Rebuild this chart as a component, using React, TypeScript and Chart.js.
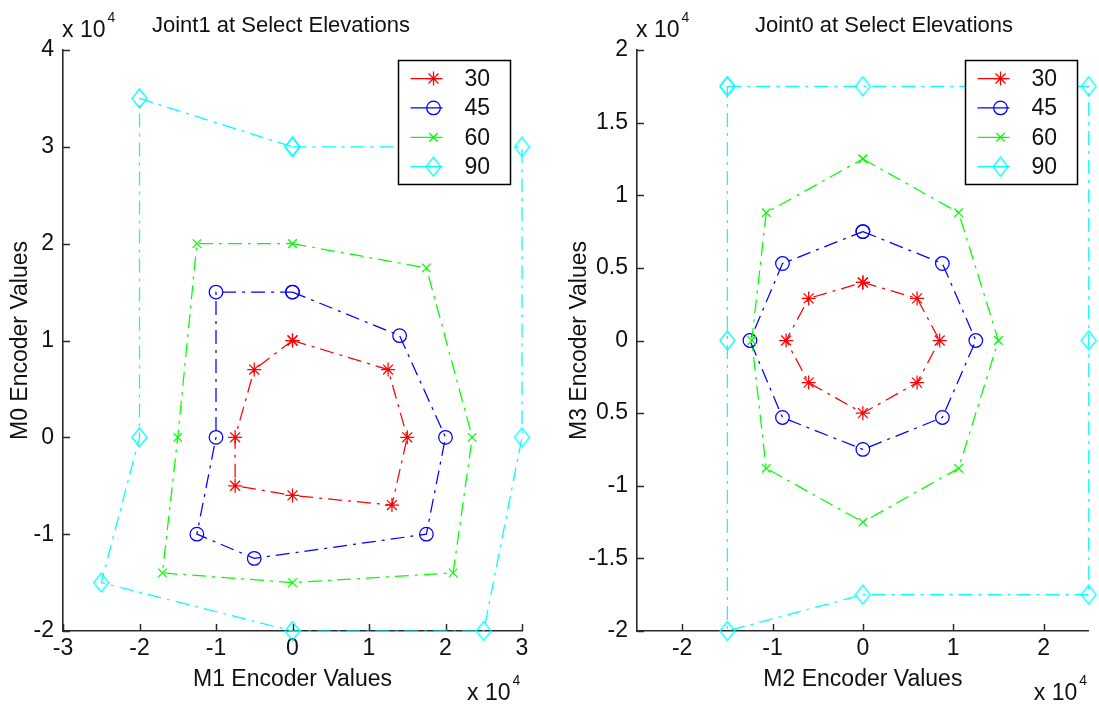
import React, { useEffect, useRef } from "react";
import { Chart, registerables } from "chart.js";

Chart.register(...registerables);

// ---------------- DATA ----------------
const seriesLabels = ["30", "45", "60", "90"];
const seriesColors = ["#ff0000", "#0000ff", "#00ff00", "#00ffff"];
const seriesMarkers = ["star", "circle", "crossRot", "diamond"];

// Joint1 (left panel): x = M1 encoder values, y = M0 encoder values
const joint1_30_x = [0, 12500, 15000, 13000, 0, -7500, -7500, -5000, 0];
const joint1_30_y = [10000, 7000, 0, -7000, -6000, -5000, 0, 7000, 10000];
const joint1_45_x = [0, 14000, 20000, 17500, -5000, -12500, -10000, -10000, 0];
const joint1_45_y = [15000, 10500, 0, -10000, -12500, -10000, 0, 15000, 15000];
const joint1_60_x = [0, 17500, 23500, 21000, 0, -17000, -15000, -12500, 0];
const joint1_60_y = [20000, 17500, 0, -14000, -15000, -14000, 0, 20000, 20000];
const joint1_90_x = [0, 30000, 30000, 25000, 0, -25000, -20000, -20000, 0];
const joint1_90_y = [30000, 30000, 0, -20000, -20000, -15000, 0, 35000, 30000];

// Joint0 (right panel): x = M2 encoder values, y = M3 encoder values
const joint0_30_x = [0, 6000, 8500, 6000, 0, -6000, -8500, -6000, 0];
const joint0_30_y = [4000, 2900, 0, -2900, -5000, -2900, 0, 2900, 4000];
const joint0_45_x = [0, 8800, 12500, 8800, 0, -8900, -12500, -8900, 0];
const joint0_45_y = [7500, 5300, 0, -5300, -7500, -5300, 0, 5300, 7500];
const joint0_60_x = [0, 10600, 15000, 10600, 0, -10700, -12300, -10700, 0];
const joint0_60_y = [12500, 8800, 0, -8800, -12500, -8800, 0, 8800, 12500];
const joint0_90_x = [-15000, 0, 25000, 25000, 25000, 0, -15000, -15000, -15000];
const joint0_90_y = [17500, 17500, 17500, 0, -17500, -17500, -20000, 0, 17500];

// Ticks
const joint1XTicks = [-30000, -20000, -10000, 0, 10000, 20000, 30000];
const joint1XTickLabels = ["-3", "-2", "-1", "0", "1", "2", "3"];
const joint1YTicks = [-20000, -10000, 0, 10000, 20000, 30000, 40000];
const joint1YTickLabels = ["-2", "-1", "0", "1", "2", "3", "4"];
const joint0XTicks = [-20000, -10000, 0, 10000, 20000];
const joint0XTickLabels = ["-2", "-1", "0", "1", "2"];
const joint0YTicks = [-20000, -15000, -10000, -5000, 0, 5000, 10000, 15000, 20000];
const joint0YTickLabels = ["-2", "-1.5", "-1", "0.5", "0", "0.5", "1", "1.5", "2"];

// ---------------- STYLE ----------------
const FONT_FAMILY = '"Liberation Sans", Arial, Helvetica, sans-serif';
const TEXT_COLOR = "#111111";
const AXIS_COLOR = "#2a2a2a";
const LABEL_SIZE = 23;
const TITLE_SIZE = 22;
const DASH = [14, 6, 3, 6];
const LINE_W = 1.25;

type Panel = {
  title: string;
  titleX: number;
  xTitle: string;
  yTitle: string;
  xMin: number;
  xMax: number;
  yMin: number;
  yMax: number;
  xTicks: number[];
  xTickLabels: string[];
  yTicks: number[];
  yTickLabels: string[];
  series: { x: number[]; y: number[] }[];
  yAxisWidth: number;
  padRight: number;
  yTitlePad: number;
};

const leftPanel: Panel = {
  title: "Joint1 at Select Elevations",
  titleX: 152,
  xTitle: "M1 Encoder Values",
  yTitle: "M0 Encoder Values",
  xMin: -30000,
  xMax: 30000,
  yMin: -20000,
  yMax: 40000,
  xTicks: joint1XTicks,
  xTickLabels: joint1XTickLabels,
  yTicks: joint1YTicks,
  yTickLabels: joint1YTickLabels,
  series: [
    { x: joint1_30_x, y: joint1_30_y },
    { x: joint1_45_x, y: joint1_45_y },
    { x: joint1_60_x, y: joint1_60_y },
    { x: joint1_90_x, y: joint1_90_y },
  ],
  yAxisWidth: 63,
  padRight: 27,
  yTitlePad: 7,
};

const rightPanel: Panel = {
  title: "Joint0 at Select Elevations",
  titleX: 755 - 549,
  xTitle: "M2 Encoder Values",
  yTitle: "M3 Encoder Values",
  xMin: -25000,
  xMax: 25000,
  yMin: -20000,
  yMax: 20000,
  xTicks: joint0XTicks,
  xTickLabels: joint0XTickLabels,
  yTicks: joint0YTicks,
  yTickLabels: joint0YTickLabels,
  series: [
    { x: joint0_30_x, y: joint0_30_y },
    { x: joint0_45_x, y: joint0_45_y },
    { x: joint0_60_x, y: joint0_60_y },
    { x: joint0_90_x, y: joint0_90_y },
  ],
  yAxisWidth: 88,
  padRight: 3,
  yTitlePad: 17,
};

function makeDiamond(color: string): HTMLCanvasElement {
  const c = document.createElement("canvas");
  c.width = 17;
  c.height = 21;
  const ctx = c.getContext("2d")!;
  ctx.strokeStyle = color;
  ctx.lineWidth = 1.25;
  ctx.beginPath();
  ctx.moveTo(8.5, 1);
  ctx.lineTo(16, 10.5);
  ctx.lineTo(8.5, 20);
  ctx.lineTo(1, 10.5);
  ctx.closePath();
  ctx.stroke();
  return c;
}

const markerRadius: Record<string, number> = {
  star: 7,
  circle: 6.8,
  crossRot: 6,
  diamond: 9,
};

function drawMarker(
  ctx: CanvasRenderingContext2D,
  style: string,
  x: number,
  y: number,
  color: string,
  diamond: HTMLCanvasElement
) {
  const r = markerRadius[style];
  ctx.save();
  ctx.setLineDash([]);
  ctx.strokeStyle = color;
  ctx.lineWidth = LINE_W;
  if (style === "diamond") {
    ctx.drawImage(diamond, x - diamond.width / 2, y - diamond.height / 2);
    ctx.restore();
    return;
  }
  ctx.beginPath();
  if (style === "circle") {
    ctx.arc(x, y, r, 0, Math.PI * 2);
  } else if (style === "star") {
    for (let k = 0; k < 4; k++) {
      const a = (k * Math.PI) / 4;
      ctx.moveTo(x - Math.cos(a) * r, y - Math.sin(a) * r);
      ctx.lineTo(x + Math.cos(a) * r, y + Math.sin(a) * r);
    }
  } else {
    const d = r * Math.SQRT1_2;
    ctx.moveTo(x - d, y - d);
    ctx.lineTo(x + d, y + d);
    ctx.moveTo(x + d, y - d);
    ctx.lineTo(x - d, y + d);
  }
  ctx.stroke();
  ctx.restore();
}

function buildConfig(p: Panel, diamond: HTMLCanvasElement): any {
  const font = { family: FONT_FAMILY, size: LABEL_SIZE };
  const datasets = p.series.map((s, i) => ({
    label: seriesLabels[i],
    data: s.x.map((x, k) => ({ x, y: s.y[k] })),
    showLine: true,
    borderColor: seriesColors[i],
    borderWidth: LINE_W,
    borderDash: DASH,
    borderCapStyle: "butt",
    tension: 0,
    pointStyle: seriesMarkers[i] === "diamond" ? diamond : seriesMarkers[i],
    pointRadius: markerRadius[seriesMarkers[i]],
    pointBorderColor: seriesColors[i],
    pointBackgroundColor: "rgba(0,0,0,0)",
    pointBorderWidth: LINE_W,
    clip: false,
    order: 3 - i,
  }));

  const decor = {
    id: "decor",
    beforeDatasetsDraw(chart: any) {
      const ctx = chart.ctx as CanvasRenderingContext2D;
      const area = chart.chartArea;
      const xs = chart.scales.x;
      const ys = chart.scales.y;
      ctx.save();
      ctx.strokeStyle = AXIS_COLOR;
      ctx.lineWidth = 1.5;
      ctx.beginPath();
      for (const t of xs.ticks) {
        const px = Math.round(xs.getPixelForValue(t.value)) + 0.5;
        ctx.moveTo(px, area.bottom);
        ctx.lineTo(px, area.bottom - 7);
      }
      for (const t of ys.ticks) {
        const py = Math.round(ys.getPixelForValue(t.value)) + 0.5;
        ctx.moveTo(area.left, py);
        ctx.lineTo(area.left + 7, py);
      }
      ctx.stroke();
      ctx.restore();
    },
    afterDraw(chart: any) {
      const ctx = chart.ctx as CanvasRenderingContext2D;
      const area = chart.chartArea;
      ctx.save();
      ctx.fillStyle = TEXT_COLOR;
      ctx.textBaseline = "alphabetic";
      ctx.textAlign = "left";
      // title
      ctx.font = `${TITLE_SIZE}px ${FONT_FAMILY}`;
      ctx.fillText(p.title, p.titleX, 32);
      // exponent labels
      const drawExp = (x: number, y: number) => {
        ctx.font = `${LABEL_SIZE}px ${FONT_FAMILY}`;
        ctx.fillText("x 10", x, y);
        const w = ctx.measureText("x 10").width;
        ctx.font = `14px ${FONT_FAMILY}`;
        ctx.fillText("4", x + w + 2, y - 15);
      };
      drawExp(area.left - 1, 37);
      drawExp(area.right - 55, 700);

      // legend
      const bw = 112;
      const bh = 124;
      const bx = Math.round(area.right - 12 - bw) + 0.5;
      const by = Math.round(area.top + 10) + 0.5;
      ctx.fillStyle = "#ffffff";
      ctx.fillRect(bx, by, bw, bh);
      ctx.strokeStyle = "#000000";
      ctx.lineWidth = 1.5;
      ctx.strokeRect(bx, by, bw, bh);
      chart.data.datasets.forEach((ds: any, i: number) => {
        const ry = by + 18 + i * 29.4;
        ctx.save();
        ctx.strokeStyle = ds.borderColor;
        ctx.lineWidth = LINE_W;
        ctx.setLineDash([]);
        ctx.beginPath();
        ctx.moveTo(bx + 12, ry);
        ctx.lineTo(bx + 44, ry);
        ctx.stroke();
        ctx.restore();
        drawMarker(ctx, seriesMarkers[i], bx + 35, ry, ds.borderColor, diamond);
        ctx.fillStyle = TEXT_COLOR;
        ctx.font = `${LABEL_SIZE}px ${FONT_FAMILY}`;
        ctx.textBaseline = "middle";
        ctx.fillText(ds.label, bx + 66, ry + 1);
      });
      ctx.restore();
    },
  };

  return {
    type: "scatter",
    data: { datasets },
    plugins: [decor],
    options: {
      responsive: false,
      animation: false,
      devicePixelRatio: 1,
      layout: { padding: { top: 50, left: 0, right: p.padRight, bottom: 0 } },
      plugins: {
        legend: { display: false },
        title: { display: false },
        tooltip: { enabled: false },
      },
      elements: { line: { tension: 0 } },
      scales: {
        x: {
          type: "linear",
          position: "bottom",
          min: p.xMin,
          max: p.xMax,
          afterBuildTicks: (s: any) => {
            s.ticks = p.xTicks.map((v) => ({ value: v }));
          },
          afterFit: (s: any) => {
            s.height = 77;
          },
          grid: { display: false, drawTicks: false },
          border: { display: true, color: AXIS_COLOR, width: 1.6 },
          ticks: {
            autoSkip: false,
            maxRotation: 0,
            padding: 4,
            color: TEXT_COLOR,
            font,
            callback: (_v: any, idx: number) => p.xTickLabels[idx],
          },
          title: {
            display: true,
            text: p.xTitle,
            color: TEXT_COLOR,
            font,
            padding: { top: 0, bottom: 15 },
          },
        },
        y: {
          type: "linear",
          position: "left",
          min: p.yMin,
          max: p.yMax,
          afterBuildTicks: (s: any) => {
            s.ticks = p.yTicks.map((v) => ({ value: v }));
          },
          afterFit: (s: any) => {
            s.width = p.yAxisWidth;
          },
          grid: { display: false, drawTicks: false },
          border: { display: true, color: AXIS_COLOR, width: 1.6 },
          ticks: {
            autoSkip: false,
            padding: 9,
            color: TEXT_COLOR,
            font,
            callback: (_v: any, idx: number) => p.yTickLabels[idx],
          },
          title: {
            display: true,
            text: p.yTitle,
            color: TEXT_COLOR,
            font,
            padding: { top: p.yTitlePad, bottom: 0 },
          },
        },
      },
    },
  };
}

export default function App() {
  const leftRef = useRef<HTMLCanvasElement>(null);
  const rightRef = useRef<HTMLCanvasElement>(null);

  useEffect(() => {
    document.body.style.margin = "0";
    const diamond = makeDiamond(seriesColors[3]);
    const c1 = new Chart(leftRef.current!, buildConfig(leftPanel, diamond));
    const c2 = new Chart(rightRef.current!, buildConfig(rightPanel, diamond));
    return () => {
      c1.destroy();
      c2.destroy();
    };
  }, []);

  return (
    <div
      style={{
        position: "absolute",
        left: 0,
        top: 0,
        width: 1099,
        height: 708,
        background: "#ffffff",
        overflow: "hidden",
      }}
    >
      <canvas
        ref={leftRef}
        width={549}
        height={708}
        style={{ position: "absolute", left: 0, top: 0, width: 549, height: 708 }}
      />
      <canvas
        ref={rightRef}
        width={550}
        height={708}
        style={{ position: "absolute", left: 549, top: 0, width: 550, height: 708 }}
      />
    </div>
  );
}
